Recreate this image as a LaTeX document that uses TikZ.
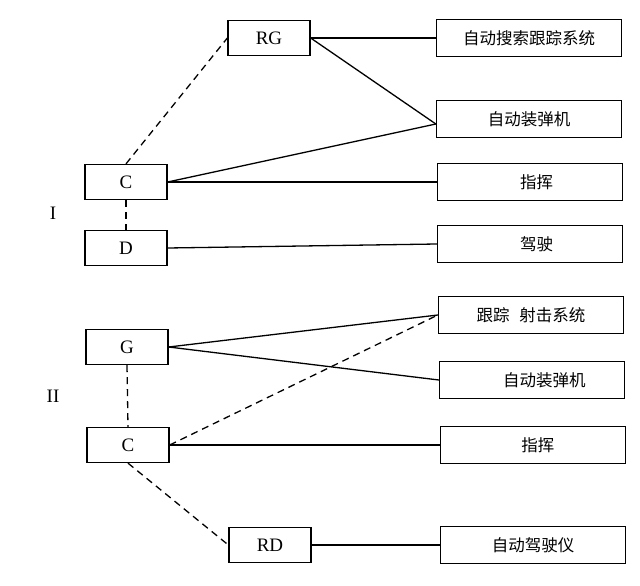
\documentclass[tikz,border=0pt]{standalone}
\usepackage{fontspec}
\setmainfont{Liberation Serif}
\newfontfamily\cjk{Noto Sans CJK SC}

\begin{document}
\begin{tikzpicture}[x=1pt, y=-1pt, line width=1.3pt,
    unit/.style={draw, minimum width=82pt, minimum height=35pt, inner sep=0pt,
        font=\fontsize{19}{21}\selectfont},
    task/.style={draw, minimum width=185pt, minimum height=37pt, inner sep=0pt,
        font=\cjk\fontsize{16.5}{18}\selectfont},
    link/.style={dash pattern=on 7pt off 5pt}]
    \useasboundingbox (0,0) rectangle (640,586);

    % 1. Crew units (left column)
    \node[unit] (rg) at (269,38) {RG};
    \node[unit] (cI) at (126,182) {C};
    \node[unit] (d) at (126,248) {D};
    \node[unit] (g) at (127,347) {G};
    \node[unit] (cII) at (128,445) {C};
    \node[unit] (rd) at (270,545) {RD};

    % Variant labels
    \node[font=\fontsize{19}{21}\selectfont] (one) at (53,213) {I};
    \node[font=\fontsize{19}{21}\selectfont] (two) at (53,396) {II};

    % 2. Tasks (right column)
    \node[task] (search) at (529,38) {自动搜索跟踪系统};
    \node[task] (loaderI) at (529,119) {自动装弹机};
    \node[task] (commandI) at (530,182) {\hspace{0.8em}指挥};
    \node[task] (drive) at (530,244) {\hspace{0.8em}驾驶};
    \node[task] (fire) at (531,315) {跟踪\hspace{0.6em}射击系统};
    \node[task] (loaderII) at (532,380) {\hspace{1.5em}自动装弹机};
    \node[task] (commandII) at (533,445) {\hspace{0.6em}指挥};
    \node[task] (autodrive) at (533,545) {自动驾驶仪};

    % 3. Variant I links
    \draw (rg.east) -- (search.west);
    \draw (rg.east) -- ([yshift=-5pt]loaderI.west);
    \draw (cI.east) -- ([yshift=-5pt]loaderI.west);
    \draw (cI.east) -- (commandI.west);
    \draw (d.east) -- (drive.west);
    \draw[link] (cI.north) -- (rg.west);
    \draw[link] (cI.south) -- (d.north);

    % 4. Variant II links
    \draw (g.east) -- (fire.west);
    \draw (g.east) -- (loaderII.west);
    \draw (cII.east) -- (commandII.west);
    \draw (rd.east) -- (autodrive.west);
    \draw[link] (cII.east) -- (fire.west);
    \draw[link] (g.south) -- (cII.north);
    \draw[link] (cII.south) -- (rd.west);

\end{tikzpicture}
\end{document}
